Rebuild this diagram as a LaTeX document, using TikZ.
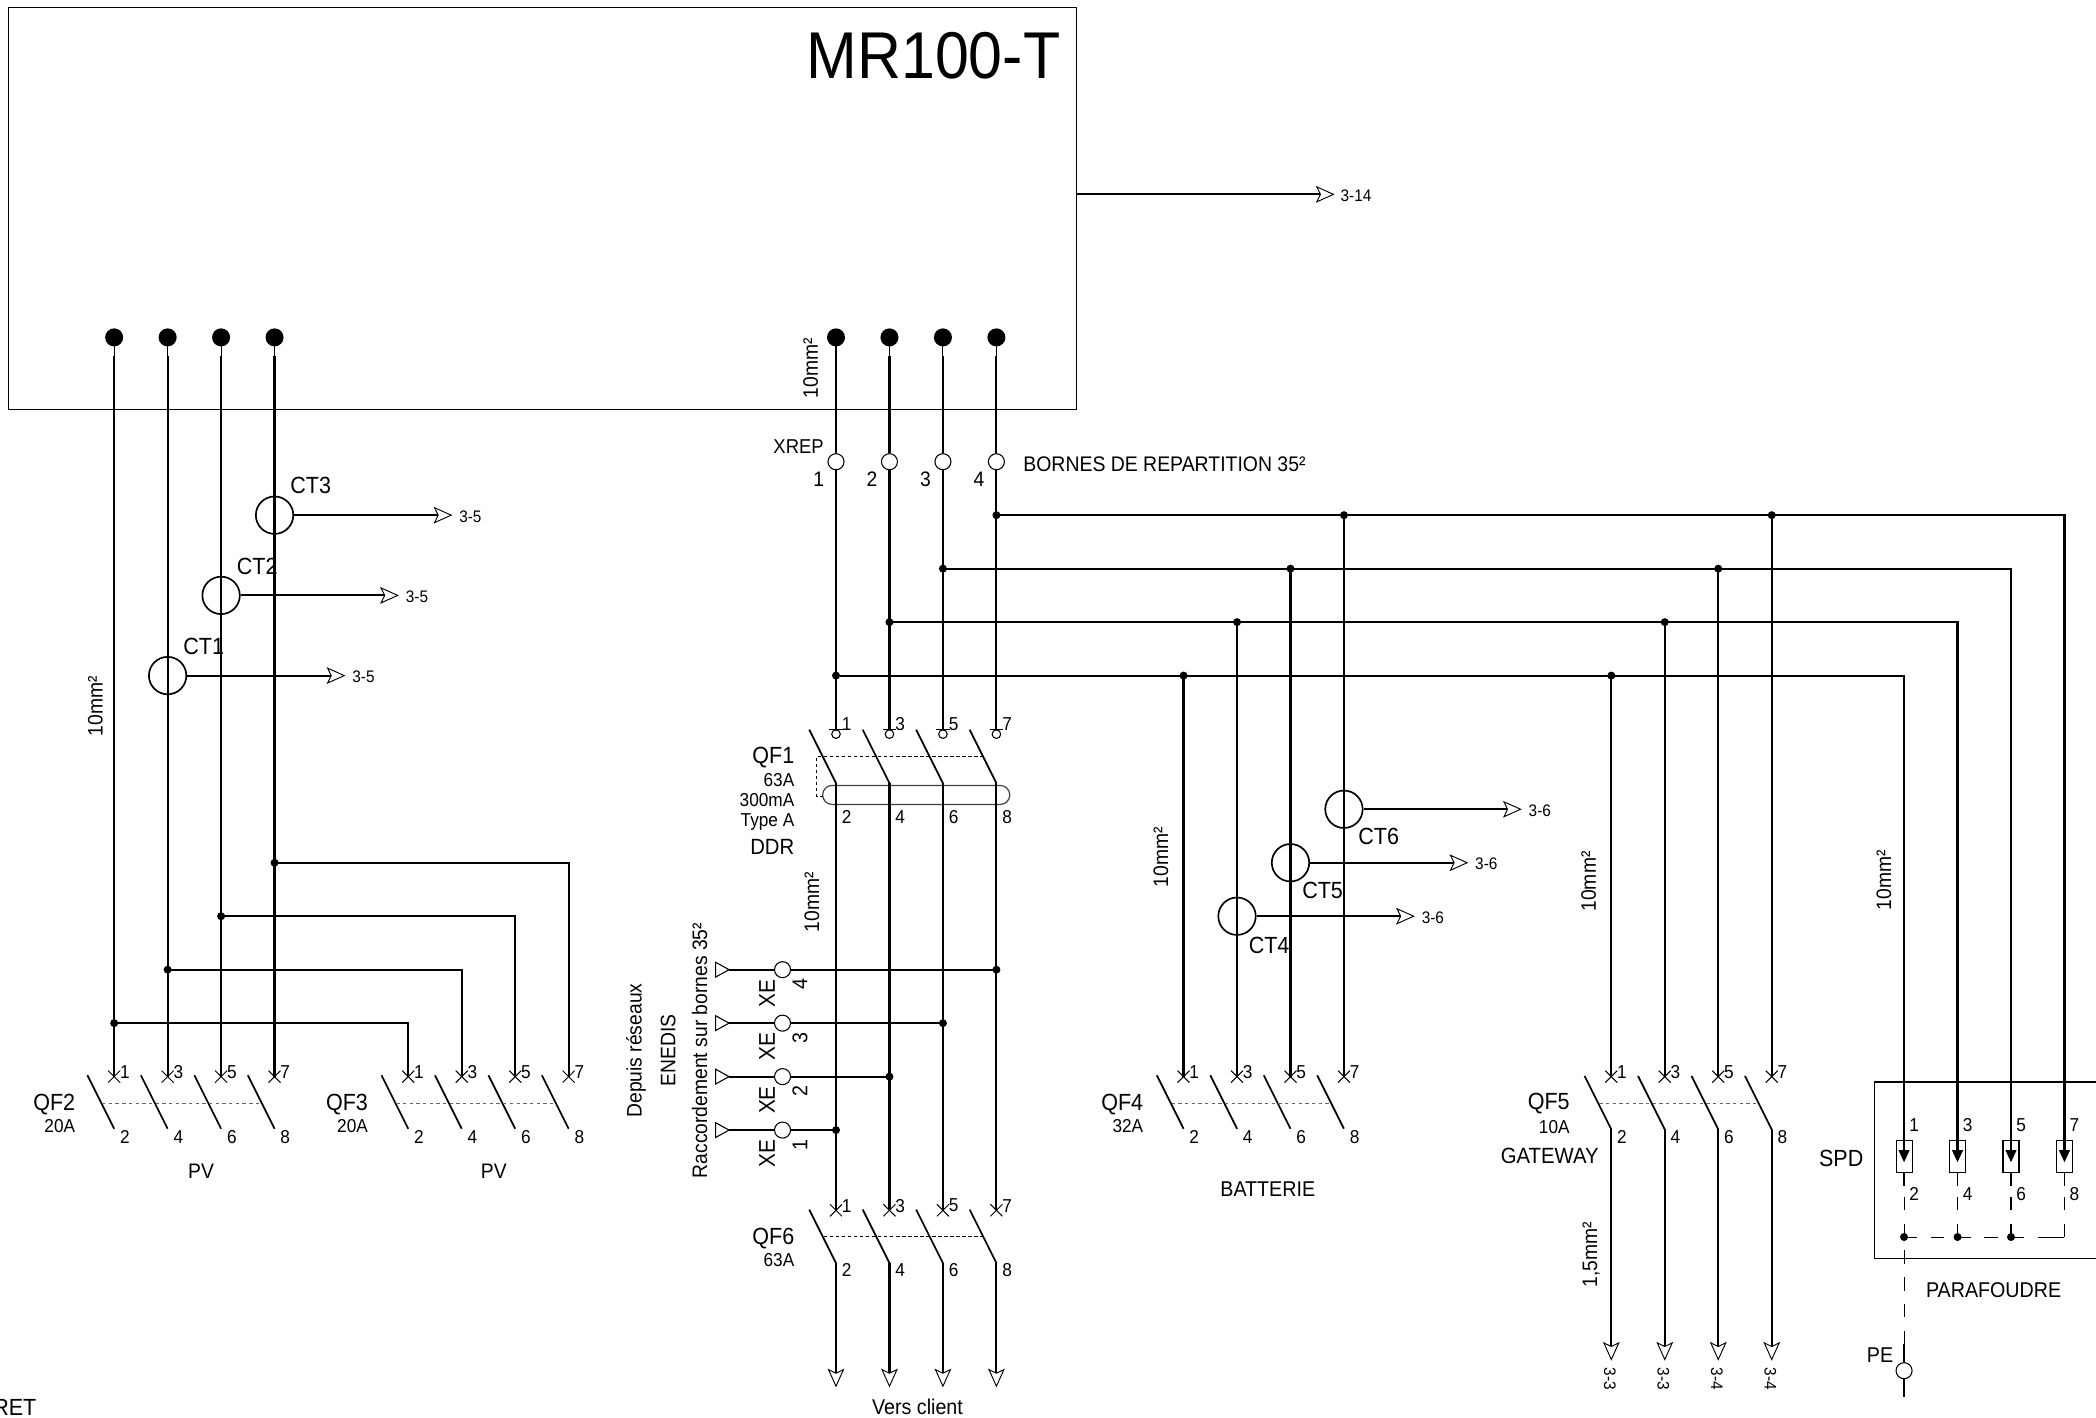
\documentclass[tikz,border=0pt]{standalone}
\usepackage{fontspec}
\setmainfont[FakeStretch=0.92]{Liberation Sans}
\usetikzlibrary{arrows.meta}
\tikzset{
  x=1pt,y=-1pt,
  wire/.style={line width=1.6pt,line join=miter},
  fine/.style={line width=0.8pt},
  blade/.style={line width=1.3pt},
  gang/.style={line width=0.8pt,dash pattern=on 2.5pt off 2.5pt,black!60},
  gangk/.style={line width=0.6pt,dash pattern=on 2.5pt off 2pt},
  earth/.style={line width=0.8pt,dash pattern=on 10pt off 10pt},
  dot/.style={circle,fill=black,inner sep=0pt,minimum size=6pt},
  pin/.style={circle,fill=black,inner sep=0pt,minimum size=13.5pt},
  term/.style={circle,draw,fill=white,line width=0.8pt,inner sep=0pt,minimum size=12pt},
  ct/.style={circle,draw,line width=1.25pt,inner sep=0pt,minimum size=28pt},
  txt/.style={inner sep=0pt,font=\fontsize{15.7}{15.7}\selectfont},
  big/.style={inner sep=0pt,font=\fontsize{17.5}{17.5}\selectfont},
  sml/.style={inner sep=0pt,font=\fontsize{14}{14}\selectfont},
  tiny/.style={inner sep=0pt,font=\fontsize{12.5}{12.5}\selectfont},
  opn/.style={-{Stealth[fill=white,length=14pt,width=12.5pt,inset=3pt,line width=0.7pt]}},
}
\newcommand{\qfcrosses}[3]{%
  \foreach \i/\n in {0/1,1/3,2/5,3/7}{%
    \pgfmathsetmacro{\cx}{#2+40*\i}%
    \coordinate (#1t\n) at (\cx,#3);
    \draw[line width=0.75pt] (\cx-4.5,#3-4.5) -- (\cx+4.5,#3+4.5) (\cx-4.5,#3+4.5) -- (\cx+4.5,#3-4.5);
    \node[sml] (#1n\n) at (\cx+8,#3-3.5) {\n};
  }}
% #1 prefix, #2 first column, #3 blade top y, #4 bottom-number y
\newcommand{\qfblades}[4]{%
  \foreach \i/\n in {0/2,1/4,2/6,3/8}{%
    \pgfmathsetmacro{\cx}{#2+40*\i}%
    \coordinate (#1b\n) at (\cx,#3+40);
    \draw[blade] (\cx-20,#3) -- (#1b\n);
    \node[sml] (#1n\n) at (\cx+8,#4) {\n};
  }}
\begin{document}
\begin{tikzpicture}
\useasboundingbox (0,0) rectangle (1568,1060.05);
\begin{scope}[shift={(0.4,0.4)}]
% main box
\draw[fine] (6,5.5) rectangle (805,306);
\node[inner sep=0pt,anchor=east,font=\fontsize{49.5}{49.5}\selectfont] (title) at (793,41) {MR100-T};
\coordinate (boxr) at (805,145);
\coordinate (a314) at (998,145);
\draw[wire,opn] (boxr) -- (a314);
\node[tiny] (l314) at (1014,146) {3-14};
% pins
\foreach \n/\x in {a/85,b/125,c/165,d/205,e/625,f/665,g/705,h/745}{
  \node[pin] (p\n) at (\x,252) {};
  \coordinate (ps\n) at (\x,266);
  \draw[fine] (p\n.center) -- (ps\n);
}
% left switches
\qfcrosses{qa}{85}{805}
\qfblades{qa}{85}{804}{850}
\qfcrosses{qb}{305}{805}
\qfblades{qb}{305}{804}{850}
\draw[gang] (76,825) -- (194,825);
\draw[gang] (296,825) -- (414,825);
% left wires
\draw[wire] (psa) -- (qat1);
\draw[wire] (psb) -- (qat3);
\draw[wire] (psc) -- (qat5);
\draw[wire] (psd) -- (qat7);
\node[dot] (ja) at (85,765) {};
\node[dot] (jb) at (125,725) {};
\node[dot] (jc) at (165,685) {};
\node[dot] (jd) at (205,645) {};
\draw[wire] (ja.center) -| (qbt1);
\draw[wire] (jb.center) -| (qbt3);
\draw[wire] (jc.center) -| (qbt5);
\draw[wire] (jd.center) -| (qbt7);
% CT left
\foreach \n/\x/\y/\e in {1/125/505/258,2/165/445/298,3/205/385/338}{
  \node[ct] (ct\n) at (\x,\y) {};
  \coordinate (cte\n) at (\e,\y);
  \draw[wire,opn] (ct\n.east) -- (cte\n);
  \node[tiny,anchor=west] (ctl\n) at (\e+5,\y+1) {3-5};
  \node[big] (ctn\n) at (\x+27,\y-22) {CT\n};
}
\node[txt,rotate=90] (sa) at (71,528) {10mm²};
\node[big,anchor=east] (qf2) at (56,826) {QF2};
\node[sml,anchor=east] (qf2a) at (56,842) {20A};
\node[big,anchor=east] (qf3) at (275,826) {QF3};
\node[sml,anchor=east] (qf3a) at (275,842) {20A};
\node[txt] (pv1) at (150,876) {PV};
\node[txt] (pv2) at (369,876) {PV};
\node[big,anchor=east] (ret) at (27,1052.5) {RET};
% repartition terminals
\foreach \n/\x/\k in {a/625/1,b/665/2,c/705/3,d/745/4}{
  \node[txt] (xr\n) at (\x-13,358) {\k};
}
\node[inner sep=0pt,font=\fontsize{15}{15}\selectfont] (xrep) at (597,334) {XREP};
\node[inner sep=0pt,anchor=west,font=\fontsize{15.8}{15.8}\selectfont] (bornes) at (765,347) {BORNES DE REPARTITION 35²};
\node[txt,rotate=90] (sb) at (606,275) {10mm²};
% QF1
\foreach \i/\n in {0/1,1/3,2/5,3/7}{
  \pgfmathsetmacro{\cx}{625+40*\i}
  \coordinate (uqt\n) at (\cx,545.5);
  \draw[fine] (\cx-5,545.5) -- (\cx+5,545.5);
  \draw[fine] (\cx,548.8) circle (3.2);
  \node[sml] (uqn\n) at (\cx+8,541.5) {\n};
}
\qfblades{uq}{625}{545.5}{610.5}
\draw[gangk,line width=0.5pt] (615.5,595.5) -- (610.5,595.5) -- (610.5,565.5) -- (735,565.5);
\node[draw,line width=0.9pt,draw=black!75,rounded corners=7.1pt,inner sep=0pt,minimum width=140pt,minimum height=14.2pt] (capsule) at (685,594.3) {};
\node[big,anchor=east] (qf1) at (594,566) {QF1};
\node[sml,anchor=east] (qf1a) at (594,583) {63A};
\node[sml,anchor=east] (qf1b) at (594,598) {300mA};
\node[sml,anchor=east] (qf1c) at (594,614.5) {Type A};
\node[inner sep=0pt,anchor=east,font=\fontsize{16.5}{16.5}\selectfont] (qf1d) at (594,633) {DDR};
\node[txt,rotate=90] (sc) at (607,674.5) {10mm²};
% QF6
\qfcrosses{vq}{625}{905}
\qfblades{vq}{625}{904.5}{950}
\draw[gangk] (616,924.7) -- (735,924.7);
\node[big,anchor=east] (qf6) at (594,926) {QF6};
\node[sml,anchor=east] (qf6a) at (594,942) {63A};
% central wires
\foreach \n/\x/\a/\b/\e in {e/625/1/2/a,f/665/3/4/b,g/705/5/6/c,h/745/7/8/d}{
  \node[term] (xt\e) at (\x,345) {};
  \draw[wire] (ps\n) -- (xt\e.north);
  \draw[wire] (xt\e.south) -- (uqt\a);
  \draw[wire] (uqb\b) -- (vqt\a);
  \coordinate (ve\a) at (\x,1037.5);
  \draw[wire,opn] (vqb\b) -- (ve\a);
}
\node[inner sep=0pt,font=\fontsize{16}{16}\selectfont] (vers) at (686,1052) {Vers client};
% XE
\foreach \k/\y/\x in {1/845/625,2/805/665,3/765/705,4/725/745}{
  \node[dot] (xj\k) at (\x,\y) {};
  \node[term] (xe\k) at (585,\y) {};
  \coordinate (xo\k) at (545,\y);
  \draw[wire] (xo\k) -- (xe\k.west);
  \draw[wire] (xe\k.east) -- (xj\k.center);
  \draw[fine,fill=white] (535,\y-5.5) -- (xo\k) -- (535,\y+5.5) -- cycle;
  \node[inner sep=0pt,rotate=90,font=\fontsize{17}{17}\selectfont] (xel\k) at (573.5,\y+17.5) {XE};
  \node[inner sep=0pt,rotate=90,font=\fontsize{16}{16}\selectfont] (xen\k) at (598,\y+11) {\k};
}
\node[txt,rotate=90] (dep) at (475.5,785.5) {Depuis réseaux};
\node[txt,rotate=90] (ene) at (499.5,785.5) {ENEDIS};
\node[txt,rotate=90] (rac) at (523,785.5) {Raccordement sur bornes 35²};
% buses
\node[dot] (bh) at (745,385) {};
\node[dot] (bg) at (705,425) {};
\node[dot] (bf) at (665,465) {};
\node[dot] (be) at (625,505) {};
\foreach \n/\x/\y in {q4a/885/505,q4b/925/465,q4c/965/425,q4d/1005/385,q5a/1205/505,q5b/1245/465,q5c/1285/425,q5d/1325/385}{
  \node[dot] (\n) at (\x,\y) {};
}
\qfcrosses{dq}{885}{805}
\qfblades{dq}{885}{804}{850}
\draw[gang] (876,825) -- (994,825);
\qfcrosses{fq}{1205}{805}
\qfblades{fq}{1205}{804.5}{850}
\draw[gang] (1196,825) -- (1314,825);
\draw[wire] (q4a.center) -- (dqt1);
\draw[wire] (q4b.center) -- (dqt3);
\draw[wire] (q4c.center) -- (dqt5);
\draw[wire] (q4d.center) -- (dqt7);
\draw[wire] (q5a.center) -- (fqt1);
\draw[wire] (q5b.center) -- (fqt3);
\draw[wire] (q5c.center) -- (fqt5);
\draw[wire] (q5d.center) -- (fqt7);
\node[big,anchor=east] (qf4) at (855,826) {QF4};
\node[sml,anchor=east] (qf4a) at (855,842) {32A};
\node[inner sep=0pt,font=\fontsize{16}{16}\selectfont] (batt) at (948,889) {BATTERIE};
\node[txt,rotate=90] (sd) at (868,641) {10mm²};
\foreach \n/\x/\y/\e/\lx/\ly in {4/925/685/1058/949/707,5/965/645/1098/989/666,6/1005/605/1138/1031/625}{
  \node[ct] (ct\n) at (\x,\y) {};
  \coordinate (cte\n) at (\e,\y);
  \draw[wire,opn] (ct\n.east) -- (cte\n);
  \node[tiny,anchor=west] (ctl\n) at (\e+5,\y+1) {3-6};
  \node[big] (ctn\n) at (\lx,\ly) {CT\n};
}
% QF5
\node[big,anchor=east] (qf5) at (1174,825.5) {QF5};
\node[sml,anchor=east] (qf5a) at (1174,842.4) {10A};
\node[inner sep=0pt,anchor=east,font=\fontsize{16.5}{16.5}\selectfont] (gate) at (1195.7,864) {GATEWAY};
\node[txt,rotate=90] (se) at (1188,659) {10mm²};
\node[txt,rotate=90] (sf) at (1190,938) {1,5mm²};
\foreach \b/\x/\t in {2/1205/3-3,4/1245/3-3,6/1285/3-4,8/1325/3-4}{
  \coordinate (fe\b) at (\x,1017.5);
  \draw[wire,opn] (fqb\b) -- (fe\b);
  \node[tiny,rotate=-90] (fl\b) at (\x-1,1031) {\t};
}
% SPD
\draw[fine] (1570,809) -- (1402,809) -- (1402,941) -- (1570,941);
\node[big] (spd) at (1377,866) {SPD};
\node[inner sep=0pt,font=\fontsize{16}{16}\selectfont] (para) at (1491,965) {PARAFOUDRE};
\node[txt,rotate=90] (sg) at (1409,658) {10mm²};
\foreach \x/\a/\b/\k in {1424/1/2/a,1464/3/4/b,1504/5/6/c,1544/7/8/d}{
  \node[draw,line width=0.8pt,inner sep=0pt,minimum width=12pt,minimum height=24pt] (sp\k) at (\x,865) {};
  \coordinate (spa\k) at (\x,861);
  \fill (\x-4.2,860) -- (\x+4.2,860) -- (\x,869) -- cycle;
  \draw[line width=1pt] (sp\k.south) -- (\x,887);
  \node[sml] (spn\a) at (\x+7.5,841) {\a};
  \node[sml] (spn\b) at (\x+7.5,893) {\b};
}
\draw[wire] (be.center) -| (spaa);
\draw[wire] (bf.center) -| (spab);
\draw[wire] (bg.center) -| (spac);
\draw[wire] (bh.center) -| (spad);
\node[dot] (ea) at (1424,925) {};
\node[dot] (eb) at (1464,925) {};
\node[dot] (ec) at (1504,925) {};
\coordinate (ed) at (1544,925);
\draw[earth] (ea.center) -- (1424,887);
\draw[earth] (eb.center) -- (1464,887);
\draw[earth] (ec.center) -- (1504,887);
\draw[earth] (ed) -- (1544,887);
\draw[earth,line width=0.7pt] (ea.center) -- (ed);
\draw[line width=0.7pt] (1534,925) -- (ed);
\node[term] (pe) at (1424,1025) {};
\node[inner sep=0pt,font=\fontsize{16}{16}\selectfont] (pel) at (1406,1013) {PE};
\coordinate (ee) at (1424,935);
\coordinate (ef) at (1424,1005);
\draw[earth] (ee) -- (ef);
\draw[wire] (ef) -- (pe.north);
\coordinate (eg) at (1424,1045);
\draw[wire] (pe.south) -- (eg);
\end{scope}
\end{tikzpicture}
\end{document}
